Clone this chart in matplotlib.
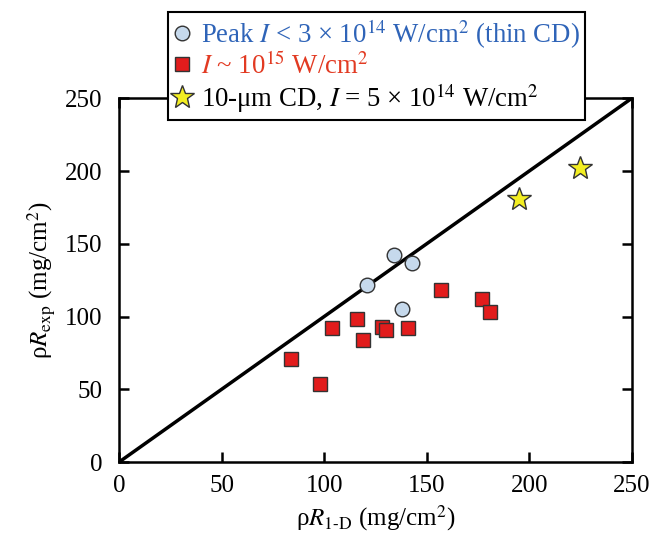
import matplotlib
matplotlib.use("Agg")
import matplotlib.pyplot as plt
import numpy as np

plt.rcParams['font.family'] = ['Liberation Serif', 'DejaVu Serif']
plt.rcParams['mathtext.fontset'] = 'stix'

# Data
low_x = [121, 134, 143, 138]
low_y = [122, 142, 137, 105]
high_x = [84, 98, 104, 116, 119, 128, 130, 141, 157, 177, 181]
high_y = [71, 54, 92, 98, 84, 93, 91, 92, 118, 112, 103]
cd_x = [195, 225]
cd_y = [181, 202]
ticks = [0, 50, 100, 150, 200, 250]

fig = plt.figure(figsize=(6.65, 5.43), dpi=100)
ax = fig.add_axes([0.179, 0.149, 0.771, 0.670])

ax.plot([0, 250], [0, 250], color='black', lw=2.5, zorder=2)
h1, = ax.plot(low_x, low_y, 'o', ms=10.5, mfc='#c6d9ec', mec='#333333', mew=1.0, ls='none', zorder=3,
              label='Peak $I$ < 3 × 10$^{14}$ W/cm$^2$ (thin CD)')
h2, = ax.plot(high_x, high_y, 's', ms=9.5, mfc='#e21c1c', mec='#333333', mew=1.0, ls='none', zorder=3,
              label='$I$ ~ 10$^{15}$ W/cm$^2$')
h3, = ax.plot(cd_x, cd_y, '*', ms=18, mfc='#f3ee22', mec='#333333', mew=1.0, ls='none', zorder=3,
              label='10-μm CD, $I$ = 5 × 10$^{14}$ W/cm$^2$')

ax.set_xlim(0, 250)
ax.set_ylim(0, 250)
ax.set_xticks(ticks)
ax.set_yticks(ticks)
ax.tick_params(direction='in', length=7, width=1.8, labelsize=18, top=True, right=True)
ax.tick_params(axis='x', pad=9)
ax.tick_params(axis='y', pad=12)
for s in ax.spines.values():
    s.set_linewidth(1.8)

ax.set_xlabel('ρ$R_{\\rm 1\\text{-}D}$ (mg/cm$^2$)', fontsize=18, labelpad=5)
ax.set_ylabel('ρ$R_{\\rm exp}$ (mg/cm$^2$)', fontsize=18, labelpad=6)

leg = fig.legend(handles=[h1, h2, h3], loc='upper center', bbox_to_anchor=(0.566, 0.978),
                 fontsize=19.3, frameon=True, fancybox=False, edgecolor='black', framealpha=1,
                 handlelength=0.7, handletextpad=0.35, borderpad=0.2, labelspacing=0.05,
                 borderaxespad=0.0,
                 labelcolor=['#2f64b8', '#e23a22', 'black'])
leg.get_frame().set_linewidth(1.5)
leg.set_zorder(10)

fig.savefig('out.png', dpi=100)
